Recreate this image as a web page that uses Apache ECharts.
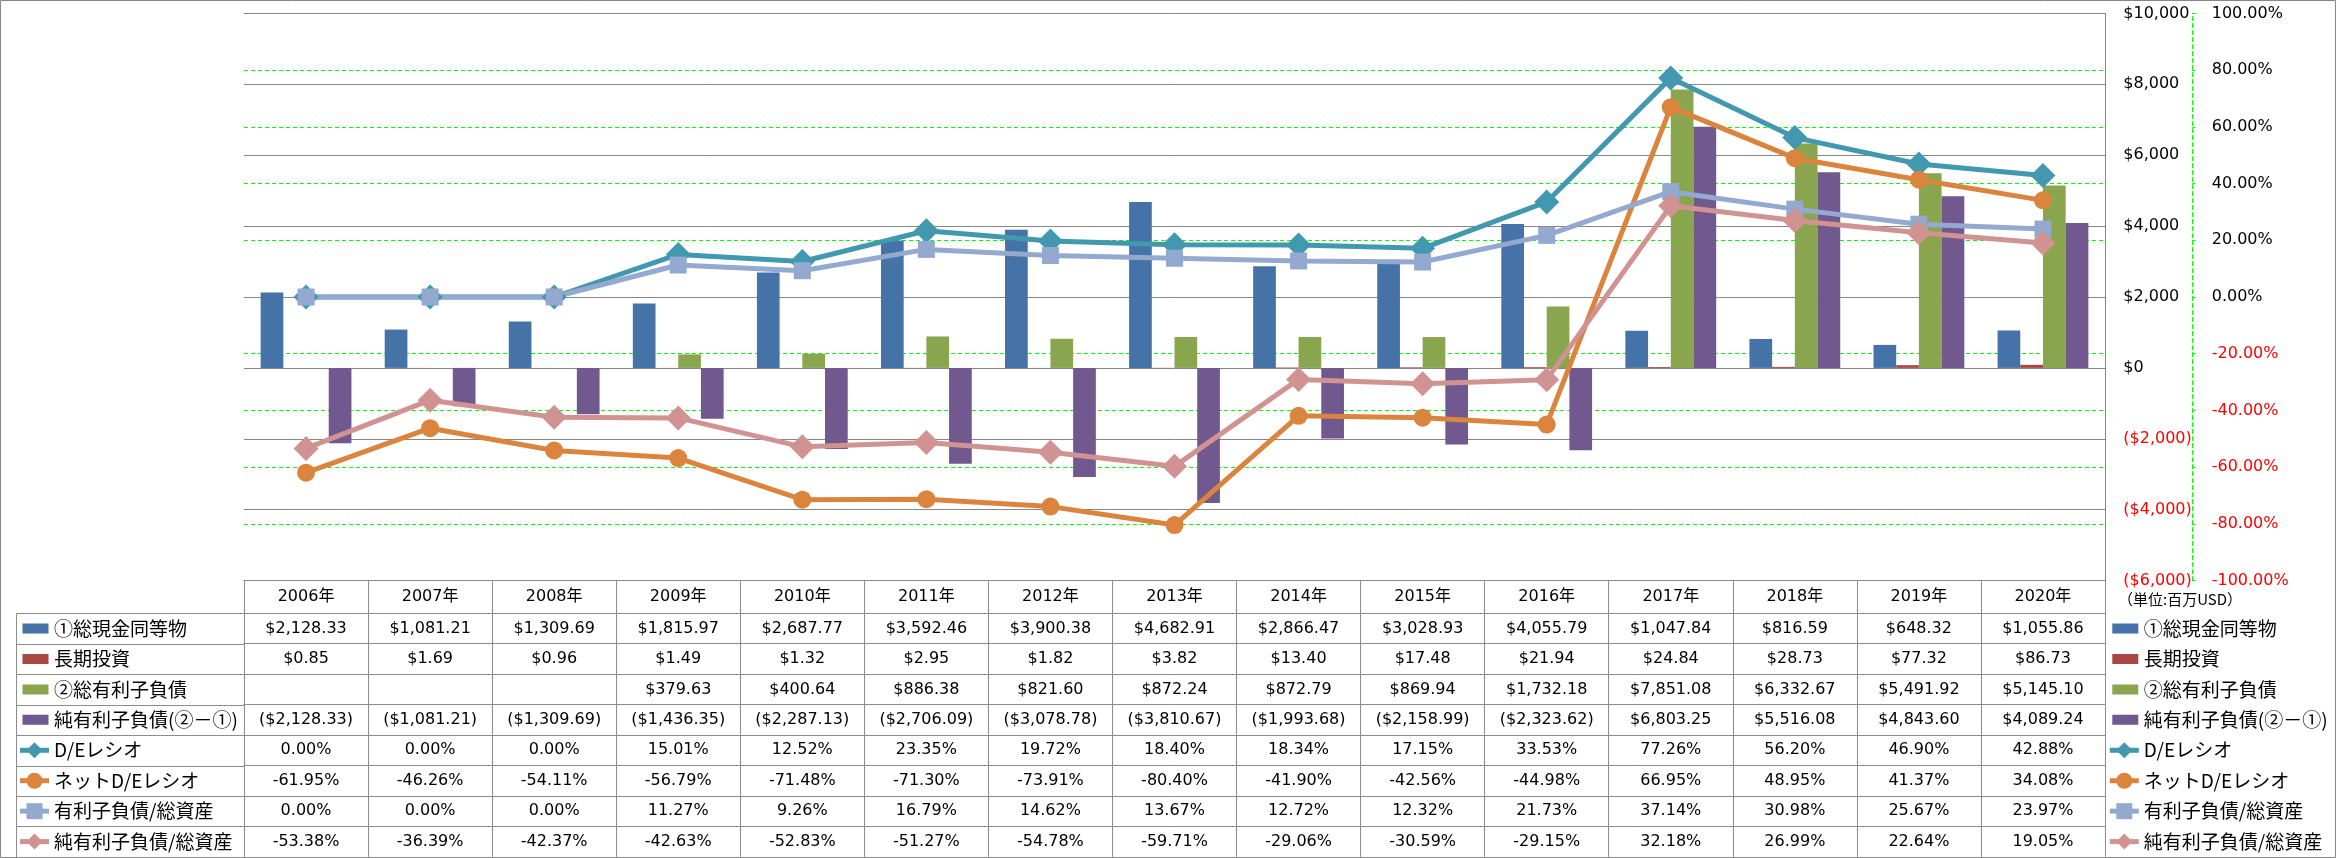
<!DOCTYPE html>
<html><head><meta charset="utf-8">
<script src="https://cdn.jsdelivr.net/npm/echarts@6/dist/echarts.min.js"></script>
<style>html,body{margin:0;padding:0;background:#fff}#c{width:2336px;height:858px}</style>
</head><body><div id="c"></div>
<script>
// ---------------- data ----------------
const categories = ['2006年','2007年','2008年','2009年','2010年','2011年','2012年','2013年','2014年','2015年','2016年','2017年','2018年','2019年','2020年'];
const seriesNames = ['①総現金同等物','長期投資','②総有利子負債','純有利子負債(②－①)','D/Eレシオ','ネットD/Eレシオ','有利子負債/総資産','純有利子負債/総資産'];
const cash = [2128.33,1081.21,1309.69,1815.97,2687.77,3592.46,3900.38,4682.91,2866.47,3028.93,4055.79,1047.84,816.59,648.32,1055.86];
const longTermInvest = [0.85,1.69,0.96,1.49,1.32,2.95,1.82,3.82,13.40,17.48,21.94,24.84,28.73,77.32,86.73];
const totalDebt = [null,null,null,379.63,400.64,886.38,821.60,872.24,872.79,869.94,1732.18,7851.08,6332.67,5491.92,5145.10];
const netDebt = [-2128.33,-1081.21,-1309.69,-1436.35,-2287.13,-2706.09,-3078.78,-3810.67,-1993.68,-2158.99,-2323.62,6803.25,5516.08,4843.60,4089.24];
const deRatio = [0,0,0,15.01,12.52,23.35,19.72,18.40,18.34,17.15,33.53,77.26,56.20,46.90,42.88];
const netDeRatio = [-61.95,-46.26,-54.11,-56.79,-71.48,-71.30,-73.91,-80.40,-41.90,-42.56,-44.98,66.95,48.95,41.37,34.08];
const debtToAssets = [0,0,0,11.27,9.26,16.79,14.62,13.67,12.72,12.32,21.73,37.14,30.98,25.67,23.97];
const netDebtToAssets = [-53.38,-36.39,-42.37,-42.63,-52.83,-51.27,-54.78,-59.71,-29.06,-30.59,-29.15,32.18,26.99,22.64,19.05];
const usdAxis = {min:-6000, max:10000, interval:2000};
const pctAxis = {min:-100, max:100, interval:20};
const unitText = '（単位:百万USD）';

// ---------------- layout / style ----------------
const W = 2336, H = 858;
const GRID_LEFT = 244, GRID_RIGHT_X = 2105, GRID_TOP = 13.4, GRID_BOTTOM = 580.6;
const HEADER_H = 32.7, ROW_H = 30.44, TABLE_LEFT = 16.5;
const GRAY = '#868686', TABLE_GRAY = '#8c8c8c', GREEN = '#00FF00', RED = '#FF0000';
const colors = ['#4572A7','#AA4643','#89A54E','#71588F','#4198AF','#DB843D','#93A9CF','#D19392'];
const NUM_FONT = "'DejaVu Sans','Noto Sans CJK JP'";
const JP_FONT = "'Noto Sans CJK JP'";
const LINE_W = 5;

function fmtUSD(v){
  if (v === null || v === undefined) return '';
  const s = '$' + Math.abs(v).toLocaleString('en-US',{minimumFractionDigits:2, maximumFractionDigits:2});
  return v < 0 ? '(' + s + ')' : s;
}
function fmtPct(v){ return v.toFixed(2) + '%'; }
function fmtAxisUSD(v){
  const s = '$' + Math.abs(v).toLocaleString('en-US');
  return v < 0 ? '(' + s + ')' : s;
}

const rows = [
  {vals: cash, fmt: fmtUSD},
  {vals: longTermInvest, fmt: fmtUSD},
  {vals: totalDebt, fmt: fmtUSD},
  {vals: netDebt, fmt: fmtUSD},
  {vals: deRatio, fmt: fmtPct},
  {vals: netDeRatio, fmt: fmtPct},
  {vals: debtToAssets, fmt: fmtPct},
  {vals: netDebtToAssets, fmt: fmtPct}
];

const labelBase = {fontFamily: NUM_FONT, fontSize: 16, color: '#000', lineHeight: 20, interval: 0};

const xAxes = [{
  type:'category', data: categories, gridIndex:0, position:'bottom', offset:0, boundaryGap:true,
  axisLine:{show:true, onZero:false, lineStyle:{color:GRAY, width:1}},
  axisTick:{show:true, alignWithLabel:false, interval:0, length:HEADER_H, lineStyle:{color:TABLE_GRAY}},
  axisLabel: Object.assign({}, labelBase, {margin: HEADER_H/2 - 10}),
  splitLine:{show:false}
}];
rows.forEach((r, i) => {
  xAxes.push({
    type:'category', data: categories, gridIndex:0, position:'bottom', offset: HEADER_H + i*ROW_H, boundaryGap:true,
    axisLine:{show:true, onZero:false, lineStyle:{color:TABLE_GRAY, width:1}},
    axisTick:{show:true, alignWithLabel:false, interval:0, length:ROW_H, lineStyle:{color:TABLE_GRAY}},
    axisLabel: Object.assign({}, labelBase, {margin: ROW_H/2 - 10, formatter: (val, idx) => r.fmt(r.vals[idx])}),
    splitLine:{show:false}
  });
});
xAxes.push({
  type:'category', data: categories, gridIndex:0, position:'bottom', offset: HEADER_H + rows.length*ROW_H,
  axisLine:{show:true, onZero:false, lineStyle:{color:TABLE_GRAY, width:1}},
  axisTick:{show:false}, axisLabel:{show:false}, splitLine:{show:false}
});

const barData = [cash, longTermInvest, totalDebt, netDebt];
const lineData = [deRatio, netDeRatio, debtToAssets, netDebtToAssets];
const lineSymbols = [['diamond',25],['circle',18],['rect',17],['diamond',25]];

const series = [];
barData.forEach((d, i) => series.push({
  type:'bar', name: seriesNames[i], data: d, xAxisIndex:0, yAxisIndex:1,
  barWidth:22.7, barGap:'0%', itemStyle:{color: colors[i]}, z:2
}));
lineData.forEach((d, i) => series.push({
  type:'line', name: seriesNames[4+i], data: d, xAxisIndex:0, yAxisIndex:0,
  symbol: lineSymbols[i][0], symbolSize: lineSymbols[i][1], showSymbol:true,
  lineStyle:{width:LINE_W, color: colors[4+i]}, itemStyle:{color: colors[4+i]}, z:3
}));

const barIcon = 'path://M0,0L29,0L29,0.01L0,0.01Z M2.5,5L28.5,5L28.5,15L2.5,15Z M0,19.99L29,19.99L29,20L0,20Z';
function legendData(){ return seriesNames.map((n, i) => i < 4 ? {name:n, icon: barIcon} : {name:n}); }
function legendAt(left){
  return {
    orient:'vertical', left: left, top: HEADER_H + GRID_BOTTOM + ROW_H/2 - 10,
    itemWidth:29, itemHeight:20, itemGap: ROW_H - 20, selectedMode:false, padding:0,
    lineStyle:{width:LINE_W},
    textStyle:{fontFamily: JP_FONT, fontSize:19, lineHeight:20, color:'#000'},
    data: legendData()
  };
}

const graphic = [];
for (let i = 0; i <= rows.length; i++) {
  const y = Math.round(GRID_BOTTOM + HEADER_H + i*ROW_H) + 0.5;
  graphic.push({type:'line', silent:true, shape:{x1:TABLE_LEFT, y1:y, x2:GRID_LEFT, y2:y}, style:{stroke:TABLE_GRAY, lineWidth:1}});
}
graphic.push({type:'line', silent:true, shape:{x1:TABLE_LEFT, y1:Math.round(GRID_BOTTOM+HEADER_H)+0.5, x2:TABLE_LEFT, y2:Math.round(GRID_BOTTOM+HEADER_H+rows.length*ROW_H)+0.5}, style:{stroke:TABLE_GRAY, lineWidth:1}});
graphic.push({type:'rect', silent:true, shape:{x:0.5, y:0.5, width:W-1, height:H-1}, style:{fill:'none', stroke:GRAY, lineWidth:1}, z:-1});
graphic.push({type:'text', silent:true, left:2118, top:592, style:{text: unitText, fontFamily: JP_FONT, fontSize:15, fill:'#000'}});

const chart = echarts.init(document.getElementById('c'), null, {renderer:'canvas'});
chart.setOption({
  animation:false,
  backgroundColor:'#fff',
  grid:{left:GRID_LEFT, top:GRID_TOP, width:GRID_RIGHT_X-GRID_LEFT, height:GRID_BOTTOM-GRID_TOP, containLabel:false, outerBoundsMode:'none'},
  legend:[legendAt(17.5), legendAt(2107.3)],
  tooltip:{show:false},
  xAxis: xAxes,
  yAxis:[
    {
      type:'value', position:'right', offset: 87.3, min:pctAxis.min, max:pctAxis.max, interval:pctAxis.interval,
      axisLine:{show:true, lineStyle:{color:GREEN, type:[4,3], width:1}},
      axisTick:{show:true, length:3, lineStyle:{color:GREEN}},
      axisLabel:{margin:19.4, fontFamily:NUM_FONT, fontSize:16, formatter: v => fmtPct(v), color: v => Number(v) < 0 ? RED : '#000'},
      splitLine:{show:true, lineStyle:{color:GREEN, type:[4,3], width:1}}
    },
    {
      type:'value', position:'right', offset:0, min:usdAxis.min, max:usdAxis.max, interval:usdAxis.interval,
      axisLine:{show:true, lineStyle:{color:GRAY, width:1}},
      axisTick:{show:false},
      axisLabel:{margin:18.3, fontFamily:NUM_FONT, fontSize:16, formatter: v => fmtAxisUSD(v), color: v => Number(v) < 0 ? RED : '#000'},
      splitLine:{show:true, lineStyle:{color:GRAY, width:1}}
    }
  ],
  graphic: graphic,
  series: series
});
</script></body></html>
